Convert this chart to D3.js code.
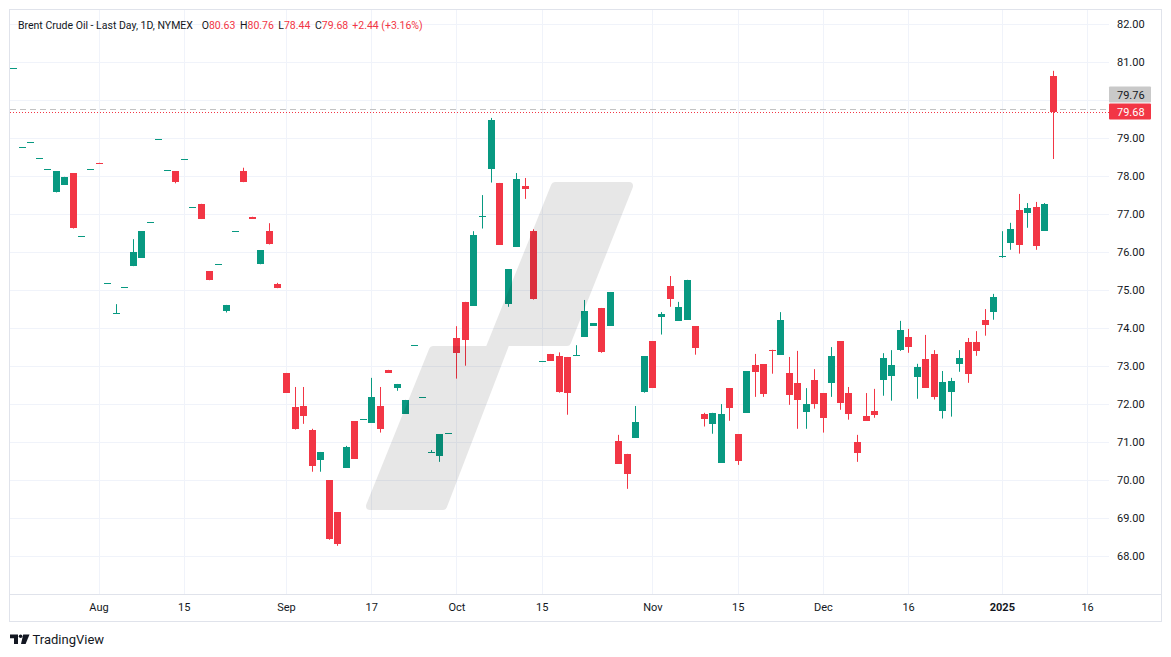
<!DOCTYPE html>
<html>
<head>
<meta charset="utf-8">
<script src="https://cdn.jsdelivr.net/npm/d3@7"></script>
<style>
  body { margin: 0; background: #fff; }
  text { font-family: Roboto, "Noto Sans", sans-serif; fill: #131722; }
</style>
</head>
<body>
<div id="chart"></div>
<script>
// Séances (jours ouvrés), mois par mois
var sessions = [
  ["2024-07", [18, 19, 22, 23, 24, 25, 26, 29, 30, 31]],
  ["2024-08", [1, 2, 5, 6, 7, 8, 9, 12, 13, 14, 15, 16, 19, 20, 21, 22, 23, 26, 27, 28, 29, 30]],
  ["2024-09", [3, 4, 5, 6, 9, 10, 11, 12, 13, 16, 17, 18, 19, 20, 23, 24, 25, 26, 27, 30]],
  ["2024-10", [1, 2, 3, 4, 7, 8, 9, 10, 11, 14, 15, 16, 17, 18, 21, 22, 23, 24, 25, 28, 29, 30, 31]],
  ["2024-11", [1, 4, 5, 6, 7, 8, 11, 12, 13, 14, 15, 18, 19, 20, 21, 22, 25, 26, 27, 29]],
  ["2024-12", [2, 3, 4, 5, 6, 9, 10, 11, 12, 13, 16, 17, 18, 19, 20, 23, 24, 26, 27, 30, 31]],
  ["2025-01", [2, 3, 6, 7, 8, 9, 10]]
];
// séances futures (axe seulement)
var futureSessions = ["2025-01-13", "2025-01-14", "2025-01-15", "2025-01-16"];

var open = [80.83,78.75,78.88,78.46,78.17,77.56,77.76,78.07,76.41,78.17,
  78.34,75.17,74.38,75.06,75.62,75.84,76.77,78.96,78.14,78.12,
  78.43,77.17,77.26,75.49,75.67,74.45,76.54,78.12,76.92,75.67,
  76.54,75.15,72.81,71.91,71.94,71.31,70.53,69.98,69.14,70.32,
  71.54,71.59,71.50,71.94,72.89,72.42,71.74,73.54,72.17,70.72,
  70.63,71.22,73.73,74.68,74.58,76.93,78.18,77.81,74.61,76.13,
  77.73,76.54,73.12,73.31,73.25,73.23,73.27,73.76,74.05,74.52,
  74.05,71.02,70.68,71.11,72.29,73.65,74.29,75.10,74.18,74.21,
  74.04,71.73,71.47,70.45,72.41,71.20,71.76,73.02,73.04,73.42,
  73.29,72.81,72.54,71.79,72.62,72.28,72.53,73.65,72.28,71.00,
  71.68,71.82,72.61,72.74,73.42,73.76,72.71,73.18,73.31,71.82,
  72.32,73.05,73.62,73.62,74.20,74.42,75.89,76.24,77.10,77.03,
  77.18,76.55,80.63];
var high = [80.83,78.75,78.88,78.46,78.17,78.12,77.97,78.07,76.41,78.17,
  78.34,75.17,74.62,75.06,76.33,76.54,76.77,78.96,78.14,78.12,
  78.43,77.17,77.26,75.49,75.67,74.60,76.54,78.21,76.92,76.04,
  76.75,75.18,72.81,72.44,72.44,71.34,70.73,69.98,69.14,70.89,
  71.54,71.59,72.68,72.44,72.89,72.52,72.10,73.54,72.17,70.78,
  71.20,71.22,74.04,74.68,76.54,77.49,79.52,77.81,75.54,78.07,
  77.94,76.59,73.12,73.31,73.35,73.23,73.54,74.73,74.12,74.52,
  74.94,71.18,70.68,71.94,73.25,73.65,74.41,75.36,74.68,75.26,
  74.04,71.76,71.76,71.99,72.41,71.20,72.86,73.31,73.04,73.42,
  74.41,73.23,73.39,72.41,72.91,72.28,73.49,73.65,72.44,71.18,
  72.28,72.39,73.33,73.41,74.18,73.97,73.05,73.81,73.41,72.86,
  72.68,73.41,73.73,73.91,74.49,74.89,76.54,76.76,77.52,77.28,
  77.31,77.28,80.76];
var low = [80.83,78.75,78.88,78.46,78.17,77.56,77.76,76.61,76.41,78.17,
  78.32,75.17,74.38,75.06,75.62,75.84,76.77,78.96,78.14,77.80,
  78.43,77.17,76.86,75.25,75.67,74.40,76.54,77.83,76.88,75.67,
  76.19,75.04,72.29,71.32,71.47,70.21,70.21,68.42,68.26,70.32,
  70.55,71.59,71.50,71.24,72.82,72.34,71.74,73.54,72.17,70.72,
  70.47,71.22,72.66,73.00,74.58,76.61,77.82,76.18,74.55,76.13,
  77.39,74.74,73.12,73.13,72.29,71.71,73.27,73.76,74.05,73.34,
  74.05,70.42,69.76,71.11,72.29,72.42,73.82,74.55,74.18,74.21,
  73.29,71.40,71.21,70.45,71.55,70.39,71.76,72.18,72.18,72.79,
  73.29,71.97,71.34,71.34,71.87,71.24,72.18,71.84,71.58,70.47,
  71.55,71.63,72.21,72.08,73.39,73.34,72.13,72.42,72.11,71.61,
  71.66,72.84,72.55,73.26,73.79,74.21,75.84,76.05,75.95,76.63,
  76.05,76.55,78.44];
var close = [80.83,78.75,78.88,78.46,78.17,78.12,77.97,76.61,76.41,78.17,
  78.32,75.17,74.38,75.06,75.99,76.54,76.77,78.96,78.14,77.83,
  78.43,77.17,76.86,75.25,75.67,74.60,76.54,77.83,76.88,76.04,
  76.19,75.04,72.29,71.32,71.68,70.37,70.73,68.42,68.29,70.86,
  70.55,71.59,72.18,71.34,72.82,72.52,72.10,73.54,72.17,70.72,
  71.20,71.22,73.34,73.68,76.44,76.93,79.47,76.18,75.54,77.91,
  77.66,74.74,73.12,73.13,72.29,72.29,73.27,74.44,74.12,73.37,
  74.94,70.42,70.16,71.52,73.25,72.42,74.36,74.76,74.54,75.26,
  73.45,71.61,71.76,71.73,71.89,70.50,72.86,72.84,72.24,73.40,
  74.20,72.24,72.08,71.99,72.00,71.61,73.25,72.03,71.74,70.71,
  71.55,71.71,73.20,73.02,73.94,73.50,72.97,72.42,72.18,72.57,
  72.60,73.20,72.79,73.39,74.08,74.81,75.89,76.60,76.18,77.15,
  76.16,77.26,79.68];

var priceTicks = [68, 69, 70, 71, 72, 73, 74, 75, 76, 77, 78, 79, 80, 81, 82];
// 80.00 est masqué par les étiquettes de prix
var priceLabels = [68, 69, 70, 71, 72, 73, 74, 75, 76, 77, 78, 79, 81, 82];
var timeTickDates = ["2024-08-01", "2024-08-15", "2024-09-03", "2024-09-17", "2024-10-01", "2024-10-15",
  "2024-11-01", "2024-11-15", "2024-12-02", "2024-12-16", "2025-01-02", "2025-01-16"];
var timeTickLabels = ["Aug", "15", "Sep", "17", "Oct", "15", "Nov", "15", "Dec", "16", "2025", "16"];

var lastPrice = 79.68;
var markPrice = 79.76;

// Options
var color = {"up": "#089981", "down": "#F23645", "grid": "#f0f3fa", "border": "#e0e3eb"};
var W = 1171, H = 657;
var plot = {"left": 10, "top": 10, "right": 1109, "bottom": 594};

// construction de la liste des dates
var dates = [];
sessions.forEach(function(m) {
  m[1].forEach(function(d) { dates.push(m[0] + "-" + (d < 10 ? "0" + d : d)); });
});
var allDates = dates.concat(futureSessions);

var data = dates.map(function(d, i) {
  return {"date": d, "i": i, "o": open[i], "h": high[i], "l": low[i], "c": close[i]};
});

var svg = d3.select("#chart").append("svg")
  .attr("width", W).attr("height", H);

var x = d3.scaleLinear().domain([0, dates.length - 1]).range([13.3, 1053]);
var y = d3.scaleLinear().domain([68, 82]).range([555.7, 23.7]);

svg.append("defs").append("clipPath").attr("id", "clip")
  .append("rect")
  .attr("x", plot.left).attr("y", plot.top)
  .attr("width", plot.right - plot.left).attr("height", plot.bottom - plot.top);

// grille
var grid = svg.append("g");
grid.selectAll(".hgrid").data(priceTicks).enter().append("line")
  .attr("x1", plot.left).attr("x2", plot.right)
  .attr("y1", function(d) { return Math.round(y(d)) + 0.5; })
  .attr("y2", function(d) { return Math.round(y(d)) + 0.5; })
  .attr("stroke", color.grid);
grid.selectAll(".vgrid").data(timeTickDates).enter().append("line")
  .attr("x1", function(d) { return Math.round(x(allDates.indexOf(d))) + 0.5; })
  .attr("x2", function(d) { return Math.round(x(allDates.indexOf(d))) + 0.5; })
  .attr("y1", plot.top).attr("y2", plot.bottom)
  .attr("stroke", color.grid);

// lignes de prix
svg.append("line")
  .attr("x1", plot.left).attr("x2", plot.right)
  .attr("y1", Math.round(y(markPrice)) + 0.5).attr("y2", Math.round(y(markPrice)) + 0.5)
  .attr("stroke", "#c2c2c2").attr("stroke-dasharray", "6,4");
svg.append("line")
  .attr("x1", plot.left).attr("x2", plot.right)
  .attr("y1", Math.round(y(lastPrice)) + 0.5).attr("y2", Math.round(y(lastPrice)) + 0.5)
  .attr("stroke", color.down).attr("stroke-dasharray", "1,2");

// bougies
var candles = svg.append("g").attr("clip-path", "url(#clip)");
var candle = candles.selectAll(".candle").data(data).enter().append("g")
  .attr("fill", function(d) { return d.c >= d.o ? color.up : color.down; });
candle.append("rect")
  .attr("x", function(d) { return Math.round(x(d.i)); })
  .attr("width", 1)
  .attr("y", function(d) { return y(d.h); })
  .attr("height", function(d) { return Math.max(0, y(d.l) - y(d.h)); });
candle.append("rect")
  .attr("x", function(d) { return Math.round(x(d.i)) - 3; })
  .attr("width", 7)
  .attr("y", function(d) { return Math.round(y(Math.max(d.o, d.c))); })
  .attr("height", function(d) { return Math.max(1, Math.round(y(Math.min(d.o, d.c)) - y(Math.max(d.o, d.c)))); });

// filigrane
var wm = [[433, 350], [489, 350], [555, 186], [629, 186], [567, 342], [506, 342], [443, 506], [370, 506]];
svg.append("g").attr("opacity", 0.09)
  .append("path")
  .attr("d", d3.line().curve(d3.curveLinearClosed)(wm))
  .attr("fill", "#000").attr("stroke", "#000")
  .attr("stroke-width", 8).attr("stroke-linejoin", "round");

// cadre
svg.append("rect").attr("x", 9.5).attr("y", 9.5).attr("width", 1152).attr("height", 612)
  .attr("fill", "none").attr("stroke", color.border);
svg.append("line").attr("x1", 10).attr("x2", 1161).attr("y1", plot.bottom + 0.5).attr("y2", plot.bottom + 0.5)
  .attr("stroke", color.border);

// axe des prix
var yAxis = svg.append("g")
  .attr("transform", "translate(" + plot.right + ",0)")
  .call(d3.axisRight(y).tickValues(priceLabels).tickFormat(d3.format(".2f")).tickSize(0).tickPadding(8));
yAxis.select(".domain").remove();
yAxis.selectAll("text").attr("font-size", 11).attr("fill", "#131722").style("font-family", "Roboto");

// étiquettes de prix
function priceLabel(yc, bg, fg, txt) {
  svg.append("rect").attr("x", plot.right).attr("y", yc - 8).attr("width", 42).attr("height", 16)
    .attr("fill", bg).attr("rx", 1);
  svg.append("text").attr("x", plot.right + 8).attr("y", yc + 4)
    .attr("font-size", 11).style("fill", fg).text(txt);
}
priceLabel(94.5, "#c9c9c9", "#131722", markPrice.toFixed(2));
priceLabel(111.5, color.down, "#ffffff", lastPrice.toFixed(2));

// axe du temps
var xAxis = svg.append("g")
  .attr("transform", "translate(0," + plot.bottom + ")")
  .call(d3.axisBottom(x)
    .tickValues(timeTickDates.map(function(d) { return allDates.indexOf(d); }))
    .tickFormat(function(d, k) { return timeTickLabels[k]; })
    .tickSize(0).tickPadding(9));
xAxis.select(".domain").remove();
xAxis.selectAll("text").attr("font-size", 11).attr("fill", "#131722").style("font-family", "Roboto")
  .attr("font-weight", function(d, k) { return timeTickLabels[k] === "2025" ? "bold" : null; });

// légende
var legend = svg.append("text").attr("y", 29).attr("font-size", 10.5);
legend.append("tspan").attr("x", 18).text("Brent Crude Oil - Last Day, 1D, NYMEX");
var ohlc = [["O", 201.7, open], ["H", 240, high], ["L", 278.3, low], ["C", 315, close]];
var li = data.length - 1;
ohlc.forEach(function(e) {
  legend.append("tspan").attr("x", e[1]).text(e[0]);
  legend.append("tspan").style("fill", color.down).text(e[2][li].toFixed(2));
});
legend.append("tspan").attr("x", 352.3).style("fill", color.down).text("+2.44 (+3.16%)");

// logo TradingView
var logo = svg.append("g").attr("fill", "#131722");
logo.append("path").attr("d", "M10,634.5 H18 V644 H14 V638.2 H10 Z");
logo.append("circle").attr("cx", 20.6).attr("cy", 636.3).attr("r", 1.8);
logo.append("path").attr("d", "M23.2,634.5 H29.5 L25.6,644 H21 Z");
svg.append("text").attr("x", 32.5).attr("y", 643.5).attr("font-size", 13).text("TradingView");
</script>
</body>
</html>
